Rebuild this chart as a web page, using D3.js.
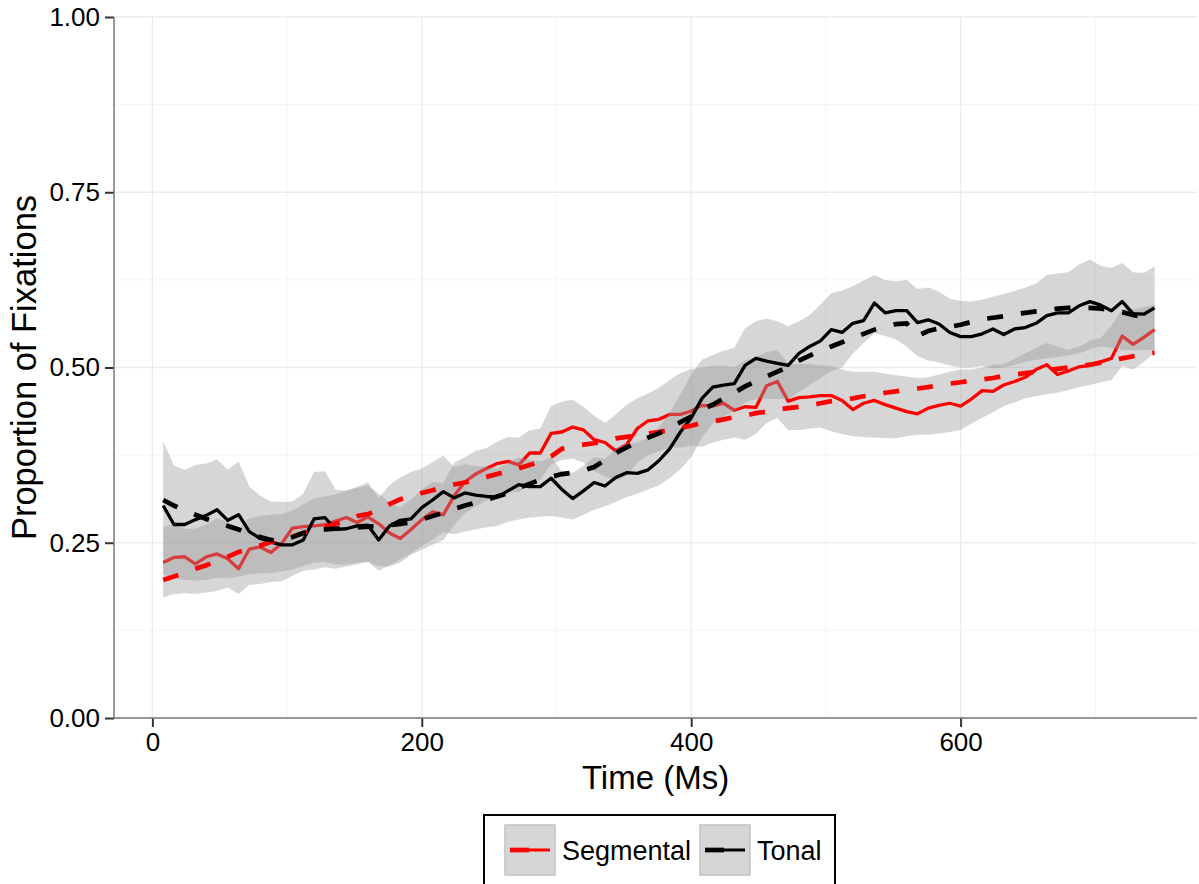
<!DOCTYPE html>
<html>
<head>
<meta charset="utf-8">
<script src="https://cdn.jsdelivr.net/npm/d3@7/dist/d3.min.js"></script>
<style>
  html, body { margin: 0; padding: 0; background: #fff; }
  svg { display: block; }
  text { font-family: "Liberation Sans", Arial, Helvetica, sans-serif; fill: #000; }
</style>
</head>
<body>
<svg id="chart" width="1199" height="884"></svg>
<script>
// Time bins (ms)
const time = [8,16,24,32,40,48,56,64,72,80,88,96,104,112,120,128,136,144,152,160,
  168,176,184,192,200,208,216,224,232,240,248,256,264,272,280,288,296,304,312,320,
  328,336,344,352,360,368,376,384,392,400,408,416,424,432,440,448,456,464,472,480,
  488,496,504,512,520,528,536,544,552,560,568,576,584,592,600,608,616,624,632,640,
  648,656,664,672,680,688,696,704,712,720,728,736,744];

// Segmental condition: observed mean, CI bounds, model fit
const segMean = [.222,.229,.230,.220,.230,.234,.227,.213,.241,.244,.236,.249,.271,.273,.274,.276,.281,.286,.279,.287,
  .277,.264,.256,.269,.283,.294,.290,.317,.337,.348,.356,.363,.366,.361,.378,.378,.406,.408,.415,.411,
  .397,.393,.381,.390,.413,.424,.426,.433,.433,.438,.446,.445,.449,.439,.444,.443,.474,.480,.452,.457,
  .458,.460,.460,.453,.440,.449,.453,.447,.442,.437,.434,.442,.446,.449,.445,.455,.467,.466,.475,.480,
  .486,.497,.504,.490,.495,.501,.503,.508,.513,.545,.533,.543,.554];
const segUpper = [.272,.277,.270,.270,.276,.285,.279,.270,.285,.288,.290,.291,.296,.305,.313,.316,.319,.325,.328,.332,
  .320,.308,.300,.312,.326,.337,.335,.364,.372,.381,.385,.394,.401,.400,.410,.413,.445,.451,.454,.444,
  .431,.421,.433,.447,.456,.463,.471,.482,.492,.498,.500,.502,.503,.500,.510,.515,.522,.525,.505,.505,
  .505,.503,.502,.497,.494,.494,.494,.491,.489,.487,.485,.486,.490,.494,.497,.497,.500,.504,.505,.512,
  .520,.528,.535,.530,.525,.530,.538,.542,.560,.583,.583,.586,.590];
const segLower = [.172,.177,.178,.177,.179,.181,.186,.177,.190,.191,.194,.195,.203,.210,.212,.215,.213,.216,.219,.223,
  .217,.216,.222,.233,.240,.247,.254,.275,.292,.302,.310,.318,.322,.322,.335,.340,.362,.368,.370,.365,
  .352,.345,.338,.345,.365,.375,.380,.385,.386,.388,.387,.393,.397,.400,.397,.405,.421,.428,.411,.411,
  .413,.414,.409,.405,.402,.401,.400,.399,.399,.402,.404,.404,.406,.408,.411,.420,.428,.436,.445,.450,
  .456,.459,.462,.464,.468,.472,.475,.479,.482,.502,.497,.508,.521];
const segFit = [.197,.202,.207,.213,.218,.224,.230,.237,.241,.246,.251,.255,.259,.264,.268,.272,.277,.281,.288,.291,
  .296,.305,.312,.316,.321,.325,.329,.333,.336,.340,.344,.348,.352,.356,.361,.366,.373,.384,.387,.390,
  .392,.395,.399,.401,.403,.406,.408,.411,.414,.417,.421,.423,.426,.429,.431,.435,.437,.440,.442,.444,
  .446,.449,.452,.454,.456,.459,.461,.464,.466,.468,.470,.472,.475,.477,.479,.481,.483,.485,.488,.490,
  .492,.494,.496,.498,.500,.502,.504,.507,.510,.513,.516,.519,.521];

// Tonal condition: observed mean, CI bounds, model fit
const tonMean = [.303,.276,.276,.283,.289,.297,.282,.290,.266,.256,.251,.247,.247,.254,.284,.286,.269,.270,.274,.275,
  .254,.274,.282,.284,.300,.311,.323,.314,.321,.318,.316,.315,.324,.333,.330,.330,.342,.326,.313,.324,
  .336,.331,.343,.350,.349,.354,.367,.384,.408,.428,.456,.472,.475,.477,.503,.513,.509,.506,.503,.520,
  .530,.538,.554,.550,.563,.567,.592,.578,.581,.581,.564,.568,.562,.550,.544,.544,.548,.555,.547,.555,
  .557,.563,.574,.578,.578,.588,.594,.589,.581,.594,.577,.576,.585];
const tonUpper = [.395,.360,.354,.361,.363,.369,.354,.366,.330,.317,.309,.308,.309,.320,.351,.352,.326,.324,.330,.336,
  .314,.332,.343,.351,.356,.365,.374,.358,.362,.360,.358,.356,.364,.372,.368,.366,.372,.352,.350,.360,
  .372,.370,.383,.392,.393,.400,.415,.435,.462,.490,.511,.518,.524,.528,.556,.566,.570,.566,.559,.566,
  .575,.590,.606,.610,.616,.624,.632,.625,.623,.625,.612,.614,.608,.598,.595,.594,.597,.601,.605,.609,
  .614,.620,.632,.634,.636,.647,.654,.645,.642,.649,.636,.635,.644];
const tonLower = [.205,.200,.197,.196,.197,.200,.200,.202,.205,.206,.207,.209,.212,.217,.222,.223,.219,.219,.222,.223,
  .210,.218,.226,.235,.245,.255,.265,.262,.266,.269,.272,.274,.280,.283,.286,.287,.288,.286,.283,.290,
  .297,.302,.308,.315,.320,.326,.332,.342,.355,.372,.400,.420,.430,.438,.450,.455,.455,.455,.455,.465,
  .475,.485,.495,.500,.520,.535,.549,.545,.540,.530,.516,.510,.507,.503,.500,.500,.502,.499,.500,.504,
  .508,.511,.513,.515,.517,.520,.526,.530,.528,.525,.525,.525,.525];
const tonFit = [.311,.303,.296,.290,.284,.279,.274,.269,.262,.258,.254,.252,.258,.264,.267,.269,.270,.271,.272,.273,
  .274,.275,.277,.279,.283,.288,.293,.298,.303,.307,.311,.316,.321,.328,.334,.340,.344,.348,.350,.353,
  .358,.368,.378,.386,.393,.400,.406,.414,.422,.430,.440,.447,.456,.464,.473,.480,.487,.494,.501,.510,
  .517,.524,.530,.536,.542,.548,.554,.558,.562,.563,.545,.552,.556,.558,.561,.565,.569,.571,.573,.576,
  .578,.580,.582,.584,.585,.585,.585,.584,.582,.579,.575,.572,.570];

// Axis ticks
const xTicks = [0, 200, 400, 600];
const xMinor = [100, 300, 500, 700];
const yTicks = [0, 0.25, 0.5, 0.75, 1];
const yMinor = [0.125, 0.375, 0.625, 0.875];
const yTickLabels = ["0.00", "0.25", "0.50", "0.75", "1.00"];

const conditions = [
  { name: "Segmental", color: "#ff0000", mean: segMean, lo: segLower, hi: segUpper, fit: segFit },
  { name: "Tonal", color: "#000000", mean: tonMean, lo: tonLower, hi: tonUpper, fit: tonFit }
];

const svg = d3.select("#chart");
const panel = { left: 114, right: 1197, top: 17, bottom: 718 };

const x = d3.scaleLinear().domain([-28.5, 775.5]).range([panel.left, panel.right]);
const y = d3.scaleLinear().domain([0, 1]).range([panel.bottom, panel.top]);

// Grid
const grid = svg.append("g");
grid.selectAll(".ym").data(yMinor).join("line")
  .attr("x1", panel.left).attr("x2", panel.right)
  .attr("y1", d => y(d)).attr("y2", d => y(d))
  .attr("stroke", "#f4f4f4").attr("stroke-width", 1);
grid.selectAll(".xm").data(xMinor).join("line")
  .attr("y1", panel.top).attr("y2", panel.bottom)
  .attr("x1", d => x(d)).attr("x2", d => x(d))
  .attr("stroke", "#f4f4f4").attr("stroke-width", 1);
grid.selectAll(".yM").data(yTicks).join("line")
  .attr("x1", panel.left).attr("x2", panel.right)
  .attr("y1", d => y(d)).attr("y2", d => y(d))
  .attr("stroke", "#ebebeb").attr("stroke-width", 1.3);
grid.selectAll(".xM").data(xTicks).join("line")
  .attr("y1", panel.top).attr("y2", panel.bottom)
  .attr("x1", d => x(d)).attr("x2", d => x(d))
  .attr("stroke", "#ebebeb").attr("stroke-width", 1.3);

const pathOf = arr => d3.line().x((d, i) => x(time[i])).y(d => y(d))(arr);

// Each condition: CI ribbon, then its observed mean on top
conditions.forEach(c => {
  const area = d3.area()
    .x((d, i) => x(time[i]))
    .y0((d, i) => y(c.lo[i]))
    .y1((d, i) => y(c.hi[i]));
  svg.append("path").attr("d", area(c.mean))
    .attr("fill", "#999999").attr("fill-opacity", 0.4);
  svg.append("path").attr("d", pathOf(c.mean))
    .attr("fill", "none").attr("stroke", c.color)
    .attr("stroke-width", 3.3).attr("stroke-linejoin", "round");
});

// Model fits (dashed)
conditions.forEach(c => {
  svg.append("path").attr("d", pathOf(c.fit))
    .attr("fill", "none").attr("stroke", c.color)
    .attr("stroke-width", 4.7).attr("stroke-dasharray", "16,18");
});

// Axes
const xAxis = d3.axisBottom(x).tickValues(xTicks).tickSize(9).tickPadding(6).tickFormat(d3.format("d"));
const yAxis = d3.axisLeft(y).tickValues(yTicks).tickSize(9).tickPadding(5)
  .tickFormat((d, i) => yTickLabels[i]);

const gx = svg.append("g").attr("transform", `translate(0,${panel.bottom})`).call(xAxis);
const gy = svg.append("g").attr("transform", `translate(${panel.left},0)`).call(yAxis);
[gx, gy].forEach(g => {
  g.select(".domain").remove();
  g.selectAll(".tick line").attr("stroke", "#333").attr("stroke-width", 2);
  g.selectAll(".tick text").attr("font-size", 26).attr("fill", "#000")
    .attr("font-family", "'Liberation Sans', Arial, sans-serif");
});
svg.append("line").attr("x1", panel.left).attr("x2", panel.left)
  .attr("y1", panel.top).attr("y2", panel.bottom)
  .attr("stroke", "#7a7a7a").attr("stroke-width", 1.5);
svg.append("line").attr("x1", panel.left).attr("x2", panel.right)
  .attr("y1", panel.bottom).attr("y2", panel.bottom)
  .attr("stroke", "#7a7a7a").attr("stroke-width", 1.5);

// Axis titles
svg.append("text").attr("x", (panel.left + panel.right) / 2).attr("y", 789)
  .attr("text-anchor", "middle").attr("font-size", 33).text("Time (Ms)");
svg.append("text")
  .attr("transform", `translate(36,${(panel.top + panel.bottom) / 2}) rotate(-90)`)
  .attr("text-anchor", "middle").attr("font-size", 34.5).text("Proportion of Fixations");

// Legend
const legend = svg.append("g");
legend.append("rect").attr("x", 484).attr("y", 815).attr("width", 351).attr("height", 80)
  .attr("fill", "#fff").attr("stroke", "#000").attr("stroke-width", 2);
const keyX = [505, 700];
conditions.forEach((c, i) => {
  const kx = keyX[i];
  legend.append("rect").attr("x", kx).attr("y", 825).attr("width", 50).attr("height", 50)
    .attr("fill", "#d6d6d6").attr("stroke", "#c2c2c2").attr("stroke-width", 1.5);
  legend.append("line").attr("x1", kx + 5).attr("x2", kx + 45).attr("y1", 850).attr("y2", 850)
    .attr("stroke", c.color).attr("stroke-width", 3);
  legend.append("line").attr("x1", kx + 5).attr("x2", kx + 24).attr("y1", 850).attr("y2", 850)
    .attr("stroke", c.color).attr("stroke-width", 4.7);
  legend.append("text").attr("x", kx + 57).attr("y", 860)
    .attr("font-size", 27).text(c.name);
});
</script>
</body>
</html>
